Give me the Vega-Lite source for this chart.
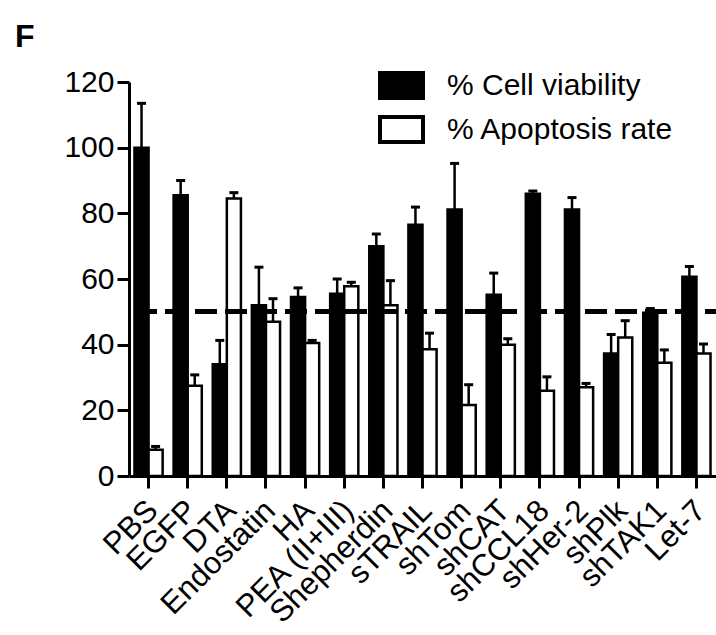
{
  "$schema": "https://vega.github.io/schema/vega-lite/v6.json",
  "autosize": "none",
  "width": 587,
  "height": 394,
  "padding": {"left": 129, "top": 82, "right": 0, "bottom": 159},
  "background": "white",
  "title": {"text": "F", "anchor": "start", "frame": "group", "font": "Liberation Sans", "fontSize": 32, "fontWeight": "bold", "color": "#000", "dx": -114, "offset": 8},
  "data": {"values": [
    {"group": "PBS", "series": "% Cell viability", "value": 100, "upper": 113.5},
    {"group": "PBS", "series": "% Apoptosis rate", "value": 8, "upper": 9},
    {"group": "EGFP", "series": "% Cell viability", "value": 85.5, "upper": 90},
    {"group": "EGFP", "series": "% Apoptosis rate", "value": 27.5, "upper": 30.8},
    {"group": "DTA", "series": "% Cell viability", "value": 34, "upper": 41.3},
    {"group": "DTA", "series": "% Apoptosis rate", "value": 84.5, "upper": 86.3},
    {"group": "Endostatin", "series": "% Cell viability", "value": 52, "upper": 63.6},
    {"group": "Endostatin", "series": "% Apoptosis rate", "value": 47, "upper": 54},
    {"group": "HA", "series": "% Cell viability", "value": 54.5, "upper": 57.3},
    {"group": "HA", "series": "% Apoptosis rate", "value": 40.5, "upper": 41.3},
    {"group": "PEA (II+III)", "series": "% Cell viability", "value": 55.5, "upper": 60},
    {"group": "PEA (II+III)", "series": "% Apoptosis rate", "value": 57.8, "upper": 59},
    {"group": "Shepherdin", "series": "% Cell viability", "value": 70, "upper": 73.7},
    {"group": "Shepherdin", "series": "% Apoptosis rate", "value": 52, "upper": 59.5},
    {"group": "sTRAIL", "series": "% Cell viability", "value": 76.5, "upper": 81.9},
    {"group": "sTRAIL", "series": "% Apoptosis rate", "value": 38.6, "upper": 43.5},
    {"group": "shTom", "series": "% Cell viability", "value": 81.2, "upper": 95.2},
    {"group": "shTom", "series": "% Apoptosis rate", "value": 21.6, "upper": 27.8},
    {"group": "shCAT", "series": "% Cell viability", "value": 55.2, "upper": 61.8},
    {"group": "shCAT", "series": "% Apoptosis rate", "value": 40, "upper": 41.8},
    {"group": "shCCL18", "series": "% Cell viability", "value": 86, "upper": 86.8},
    {"group": "shCCL18", "series": "% Apoptosis rate", "value": 26, "upper": 30.2},
    {"group": "shHer-2", "series": "% Cell viability", "value": 81.2, "upper": 84.8},
    {"group": "shHer-2", "series": "% Apoptosis rate", "value": 27, "upper": 28.2},
    {"group": "shPlk", "series": "% Cell viability", "value": 37.3, "upper": 43.1},
    {"group": "shPlk", "series": "% Apoptosis rate", "value": 42.2, "upper": 47.3},
    {"group": "shTAK1", "series": "% Cell viability", "value": 49.7, "upper": 51},
    {"group": "shTAK1", "series": "% Apoptosis rate", "value": 34.5, "upper": 38.4},
    {"group": "Let-7", "series": "% Cell viability", "value": 60.7, "upper": 63.8},
    {"group": "Let-7", "series": "% Apoptosis rate", "value": 37.3, "upper": 40.2}
  ]},
  "encoding": {
    "x": {"field": "group", "type": "nominal", "sort": null,
      "scale": {"paddingInner": 0.28, "paddingOuter": 0.14},
      "axis": {"title": null, "labelAngle": -45, "labelFontSize": 31, "labelFont": "Liberation Sans", "labelColor": "#000", "tickSize": 12, "tickWidth": 3, "tickColor": "#000", "domainWidth": 3, "domainColor": "#000", "labelPadding": 7, "labelOffset": -6, "labelLimit": 300}},
    "xOffset": {"field": "series", "type": "nominal", "scale": {"domain": ["% Cell viability", "% Apoptosis rate"], "paddingInner": 0}}
  },
  "layer": [
    {
      "mark": {"type": "bar", "stroke": "#000", "strokeWidth": 2.5},
      "encoding": {
        "y": {"field": "value", "type": "quantitative",
          "scale": {"domain": [0, 120], "nice": false},
          "axis": {"title": null, "values": [0, 20, 40, 60, 80, 100, 120], "grid": false, "labelFontSize": 30, "labelFont": "Liberation Sans", "labelColor": "#000", "tickSize": 12, "tickWidth": 3, "tickColor": "#000", "domainWidth": 3, "domainColor": "#000", "labelPadding": 3}},
        "fill": {"field": "series", "type": "nominal",
          "scale": {"domain": ["% Cell viability", "% Apoptosis rate"], "range": ["#000000", "#ffffff"]},
          "legend": {"title": null, "orient": "none", "legendX": 249, "legendY": -20,
            "symbolType": "M-1,-0.58H1V0.58H-1Z", "symbolSize": 1849, "symbolStrokeColor": "#000", "symbolStrokeWidth": 4,
            "labelFontSize": 30, "labelFont": "Liberation Sans", "labelColor": "#000", "labelOffset": 22, "rowPadding": -1, "labelLimit": 400}}
      }
    },
    {
      "mark": {"type": "rule", "stroke": "#000", "strokeWidth": 2.5},
      "encoding": {
        "y": {"field": "value", "type": "quantitative"},
        "y2": {"field": "upper"}
      }
    },
    {
      "mark": {"type": "tick", "color": "#000", "size": 9, "thickness": 3, "opacity": 1},
      "encoding": {
        "y": {"field": "upper", "type": "quantitative"}
      }
    },
    {
      "mark": {"type": "rule", "stroke": "#000", "strokeWidth": 4, "strokeDash": [22, 8], "strokeDashOffset": 11},
      "encoding": {"y": {"datum": 50}, "x": null, "xOffset": null}
    }
  ],
  "config": {"view": {"stroke": null}}
}
